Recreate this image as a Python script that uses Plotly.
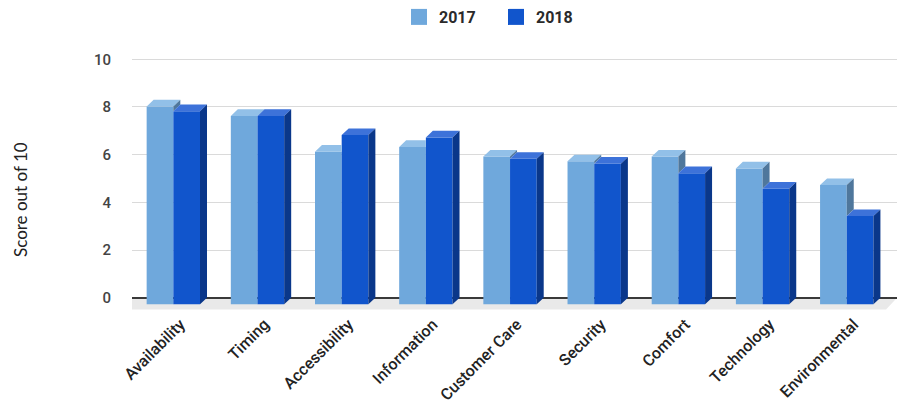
import plotly.graph_objects as go

# Survey scores per service area
categories = ["Availability", "Timing", "Accessibility", "Information", "Customer Care",
              "Security", "Comfort", "Technology", "Environmental"]
scores_2017 = [8.3, 7.9, 6.4, 6.6, 6.2, 6.0, 6.2, 5.7, 5.0]
scores_2018 = [8.1, 7.9, 7.1, 7.0, 6.1, 5.9, 5.5, 4.85, 3.7]
y_ticks = [0, 2, 4, 6, 8, 10]

# colours: front face, top face, side face
C17 = ("#6fa8dc", "#92c0e8", "#4f779c")
C18 = ("#1155cc", "#3d72d9", "#0a378a")

# pseudo-3D geometry (axis units)
W = 0.317      # bar width
DX = 0.083     # horizontal depth offset
DY = 0.277     # vertical depth offset

idx = list(range(len(categories)))

fig = go.Figure()

# front faces of the columns, standing on the front edge of the floor
fig.add_trace(go.Bar(x=idx, y=scores_2017, base=-DY, width=W, offset=-W - DX,
                     marker=dict(color=C17[0], line=dict(width=0)), name="2017",
                     showlegend=False))
fig.add_trace(go.Bar(x=idx, y=scores_2018, base=-DY, width=W, offset=-DX,
                     marker=dict(color=C18[0], line=dict(width=0)), name="2018",
                     showlegend=False))


def poly_trace(xs, ys, color):
    return go.Scatter(x=xs, y=ys, mode="lines", fill="toself", fillcolor=color,
                      line=dict(width=0, color=color), hoverinfo="skip",
                      showlegend=False)


# top and side faces; the 2017 faces are clipped where the 2018 column hides them
top17x, top17y, side17x, side17y = [], [], [], []
top18x, top18y, side18x, side18y = [], [], [], []
for i, va, vb in zip(idx, scores_2017, scores_2018):
    a0, a1 = i - W - DX, i - DX
    b1 = a1 + W
    fa, fb = va - DY, vb - DY
    # 2017 top face
    if vb <= va:
        xs = [a0, a1, a1 + DX, a0 + DX, a0]
        ys = [fa, fa, va, va, fa]
    elif fb < va:
        t = (va - fb) / DY
        xs = [a0, a1, a1, a1 + DX * t, a0 + DX, a0]
        ys = [fa, fa, fb, va, va, fa]
    else:
        xs = [a0, a1, a1, a0 + DX, a0]
        ys = [fa, fa, va, va, fa]
    top17x += xs + [None]
    top17y += ys + [None]
    # 2017 side face, only the part above the 2018 column
    if va > vb:
        side17x += [a1, a1 + DX, a1 + DX, a1, a1, None]
        side17y += [fb, vb, va, fa, fb, None]
    # 2018 faces
    top18x += [a1, b1, b1 + DX, a1 + DX, a1, None]
    top18y += [fb, fb, vb, vb, fb, None]
    side18x += [b1, b1 + DX, b1 + DX, b1, b1, None]
    side18y += [-DY, 0, vb, fb, -DY, None]

fig.add_trace(poly_trace(top17x, top17y, C17[1]))
fig.add_trace(poly_trace(side17x, side17y, C17[2]))
fig.add_trace(poly_trace(top18x, top18y, C18[1]))
fig.add_trace(poly_trace(side18x, side18y, C18[2]))

# legend entries with larger square swatches
for name, col in (("2017", C17[0]), ("2018", C18[0])):
    fig.add_trace(go.Scatter(x=[None], y=[None], mode="markers", name=name,
                             marker=dict(symbol="square", size=17, color=col)))

x_min, x_max = -0.574, len(categories) - 1 + 0.514
y_min, y_max = -0.558, 10.18

# floor under the columns
FDX, FDY = 0.13, 0.5
floor_path = (f"M {x_min},0 L {x_max},0 L {x_max - FDX},{-FDY} "
              f"L {x_min - FDX},{-FDY} Z")
fig.add_shape(type="path", path=floor_path, xref="x", yref="y",
              fillcolor="#e9e9e9", line=dict(width=0), layer="below")

fig.update_layout(
    width=898, height=410,
    margin=dict(l=132, r=1, t=55, b=99),
    paper_bgcolor="white", plot_bgcolor="white",
    barmode="overlay",
    font=dict(family="Roboto, Arial, sans-serif", color="#333"),
    legend=dict(orientation="h", x=(399 - 132) / 765, xanchor="left",
                y=1.0, yanchor="top", yref="container",
                font=dict(size=16, color="#2a2a2a", weight="bold"),
                itemwidth=30, entrywidth=52, traceorder="normal",
                itemsizing="trace"),
    showlegend=True,
    xaxis=dict(range=[x_min, x_max], tickvals=idx, ticktext=categories,
               tickangle=-45, showgrid=False, zeroline=False, showline=False,
               tickfont=dict(size=16, color="#222", weight=500), fixedrange=True),
    yaxis=dict(range=[y_min, y_max], tickvals=y_ticks, showgrid=True,
               gridcolor="#dadada", gridwidth=1.4, zeroline=True,
               zerolinecolor="#3a3a3a", zerolinewidth=1.5, showline=False,
               tickfont=dict(size=15, color="#444", weight=500), ticklabelstandoff=20,
               fixedrange=True),
    annotations=[dict(text="Score out of 10", textangle=-90, xref="paper", yref="paper",
                      x=(20 - 132) / 765, y=(311 - 200) / 256, xanchor="center",
                      yanchor="middle", showarrow=False,
                      font=dict(family="Lato, Open Sans, sans-serif", size=17,
                                color="#222"))],
)

fig.write_html("out.html")
